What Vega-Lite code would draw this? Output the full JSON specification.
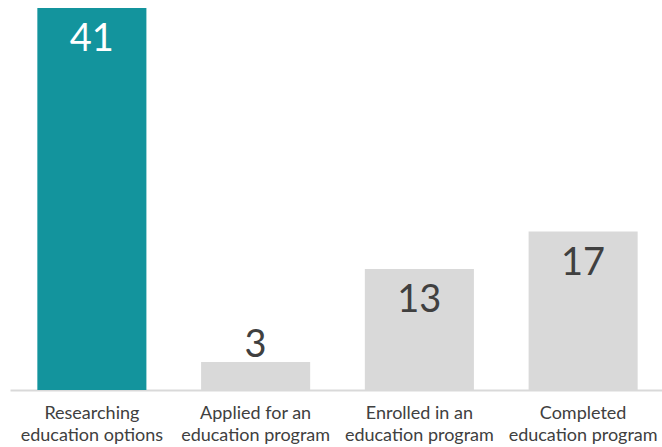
{
  "$schema": "https://vega.github.io/schema/vega-lite/v6.json",
  "width": 655,
  "height": 382,
  "autosize": "none",
  "padding": {"left": 10, "top": 8, "right": 0, "bottom": 57},
  "background": "white",
  "config": {"view": {"stroke": null}, "font": "Lato"},
  "data": {
    "values": [
      {"stage": "Researching|education options", "count": 41, "highlight": "yes"},
      {"stage": "Applied for an|education program", "count": 3, "highlight": "no"},
      {"stage": "Enrolled in an|education program", "count": 13, "highlight": "no"},
      {"stage": "Completed|education program", "count": 17, "highlight": "no"}
    ]
  },
  "encoding": {
    "x": {
      "field": "stage",
      "type": "nominal",
      "sort": null,
      "scale": {"paddingInner": 0.334, "paddingOuter": 0.167},
      "axis": {
        "title": null,
        "labelAngle": 0,
        "labelExpr": "split(datum.value, '|')",
        "labelFont": "Lato",
        "labelFontSize": 18,
        "labelColor": "#404040",
        "labelLineHeight": 22,
        "labelPadding": 14,
        "ticks": false,
        "domainColor": "#D9D9D9",
        "domainWidth": 2
      }
    },
    "y": {
      "field": "count",
      "type": "quantitative",
      "scale": {"domain": [0, 41], "nice": false},
      "axis": null
    }
  },
  "layer": [
    {
      "mark": {"type": "bar"},
      "encoding": {
        "color": {
          "field": "highlight",
          "type": "nominal",
          "scale": {"domain": ["yes", "no"], "range": ["#13949D", "#D9D9D9"]},
          "legend": null
        }
      }
    },
    {
      "transform": [{"filter": "datum.count >= 5"}],
      "mark": {"type": "text", "baseline": "middle", "dy": 32, "fontSize": 38, "font": "Lato"},
      "encoding": {
        "text": {"field": "count", "type": "quantitative"},
        "color": {
          "condition": {"test": "datum.highlight === 'yes'", "value": "#FFFFFF"},
          "value": "#404040"
        }
      }
    },
    {
      "transform": [{"filter": "datum.count < 5"}],
      "mark": {"type": "text", "baseline": "middle", "dy": -16, "fontSize": 38, "font": "Lato", "color": "#404040"},
      "encoding": {
        "text": {"field": "count", "type": "quantitative"}
      }
    }
  ]
}
